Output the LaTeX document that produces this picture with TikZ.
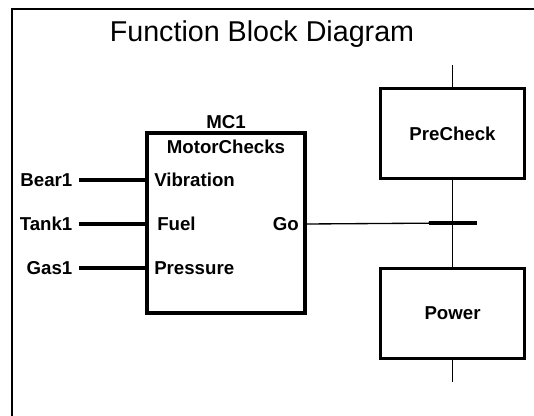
\documentclass[tikz,border=0pt]{standalone}
\usepackage{fontspec}
\setmainfont{Liberation Sans}
\usetikzlibrary{positioning}

\begin{document}
\begin{tikzpicture}[x=0.75pt, y=-0.75pt,
  every node/.style={font=\bfseries\fontsize{14}{16}\selectfont, inner sep=0pt},
  block/.style={draw, line width=2.8pt, minimum width=118.5pt, minimum height=135pt},
  stepbox/.style={draw, line width=2.8pt, minimum width=108pt, minimum height=67.5pt},
  inlabel/.style={anchor=east, outer xsep=5pt},
  port/.style={anchor=west},
  thickline/.style={line width=2.8pt},
  thinline/.style={line width=1pt}]
  \useasboundingbox (0,0) rectangle (534,416);
  % frame
  \draw[line width=1.5pt] (11.5,416) -- (11.5,9.5) -- (534,9.5);
  \node[font=\fontsize{21.5}{24}\selectfont] (title) at (262,34) {Function Block Diagram};

  % function block
  \node[block] (mc) at (226,223) {};
  \node (inst) at (226,122) {MC1};
  \node (type) at (226,147) {MotorChecks};
  \node[port] (vib) at (154,180) {Vibration};
  \node[port] (fuel) at (157,224) {Fuel};
  \node[port] (press) at (154,268) {Pressure};
  \node[anchor=east] (go) at (299,224) {Go};

  % inputs
  \node[inlabel] (bear) at (79,180) {Bear1};
  \node[inlabel] (tank) at (79,224) {Tank1};
  \node[inlabel] (gas) at (79,268) {Gas1};
  \draw[thickline] (bear.east) -- (bear -| mc.west);
  \draw[thickline] (tank.east) -- (tank -| mc.west);
  \draw[thickline] (gas.east) -- (gas -| mc.west);

  % steps
  \node[stepbox] (precheck) at (452.5,133.5) {PreCheck};
  \node[stepbox] (power) at (452.5,313.5) {Power};
  \coordinate (trans) at (452.5,223);
  \coordinate (top) at (452.5,65);
  \coordinate (bottom) at (452.5,382);

  % links
  \draw[thinline] (top) -- (precheck.north);
  \draw[thinline] (precheck.south) -- (power.north);
  \draw[thinline] (power.south) -- (bottom);
  \draw[thinline] (go -| mc.east) -- (trans);
  \draw[thickline] ([xshift=-18pt]trans) -- ([xshift=18pt]trans);
\end{tikzpicture}
\end{document}
